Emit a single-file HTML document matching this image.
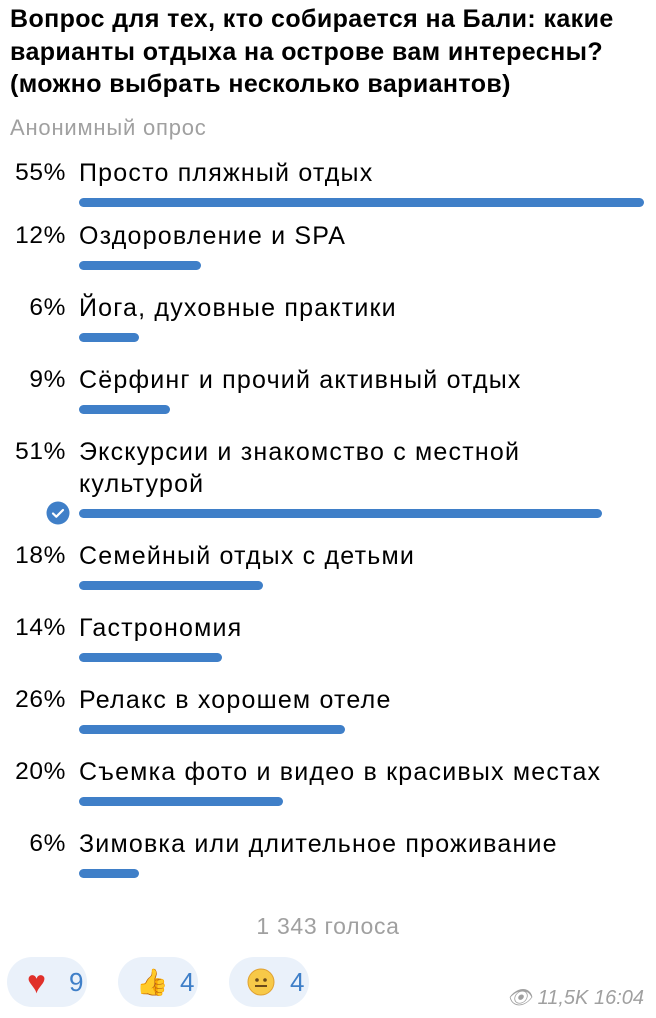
<!DOCTYPE html>
<html><head><meta charset="utf-8"><style>
body{margin:0;width:656px;height:1018px;background:#fff;position:relative;overflow:hidden;font-family:"Liberation Sans","DejaVu Sans",sans-serif;color:#000}
.a{position:absolute;white-space:nowrap}
.t{left:10px;font-size:25px;letter-spacing:0.4px;font-weight:bold;line-height:32px}
.p{width:66px;left:0;text-align:right;font-size:24.5px;letter-spacing:0.6px;line-height:30px}
.o{left:79px;font-size:25px;letter-spacing:1.2px;line-height:32px}
.b{position:absolute;left:79px;height:9px;border-radius:5px;background:#3f7fc8}
.r{position:absolute;top:957px;height:50px;width:80px;border-radius:25px;background:#eaf1fa;font-size:26px;color:#3f7fc8;line-height:50px}
</style></head><body>
<div class="a t" style="top:3px">Вопрос для тех, кто собирается на Бали: какие</div>
<div class="a t" style="top:36px">варианты отдыха на острове вам интересны?</div>
<div class="a t" style="top:68px">(можно выбрать несколько вариантов)</div>
<div class="a" style="left:10px;top:115px;font-size:22px;letter-spacing:0.8px;color:#a0a0a0">Анонимный опрос</div>

<div class="a p" style="top:158px">55%</div><div class="a o" style="top:157px">Просто пляжный отдых</div><div class="b" style="top:198px;width:565px"></div>
<div class="a p" style="top:221px">12%</div><div class="a o" style="top:220px">Оздоровление и SPA</div><div class="b" style="top:261px;width:122px"></div>
<div class="a p" style="top:293px">6%</div><div class="a o" style="top:292px">Йога, духовные практики</div><div class="b" style="top:333px;width:60px"></div>
<div class="a p" style="top:365px">9%</div><div class="a o" style="top:364px">Сёрфинг и прочий активный отдых</div><div class="b" style="top:405px;width:91px"></div>
<div class="a p" style="top:437px">51%</div><div class="a o" style="top:436px">Экскурсии и знакомство с местной</div><div class="a o" style="top:468px">культурой</div><div class="b" style="top:509px;width:523px"></div>
<svg class="a" style="left:46px;top:501px" width="24" height="24"><circle cx="12" cy="12" r="11.5" fill="#3f7fc8"/><path d="M7 12.5l3.3 3.2L17 9" stroke="#fff" stroke-width="2.2" fill="none" stroke-linecap="round" stroke-linejoin="round"/></svg>
<div class="a p" style="top:541px">18%</div><div class="a o" style="top:540px">Семейный отдых с детьми</div><div class="b" style="top:581px;width:184px"></div>
<div class="a p" style="top:613px">14%</div><div class="a o" style="top:612px">Гастрономия</div><div class="b" style="top:653px;width:143px"></div>
<div class="a p" style="top:685px">26%</div><div class="a o" style="top:684px">Релакс в хорошем отеле</div><div class="b" style="top:725px;width:266px"></div>
<div class="a p" style="top:757px">20%</div><div class="a o" style="top:756px">Съемка фото и видео в красивых местах</div><div class="b" style="top:797px;width:204px"></div>
<div class="a p" style="top:829px">6%</div><div class="a o" style="top:828px">Зимовка или длительное проживание</div><div class="b" style="top:869px;width:60px"></div>

<div class="a" style="left:0;width:656px;text-align:center;top:913px;font-size:23px;letter-spacing:0.7px;color:#a0a0a0">1 343 голоса</div>
<div class="r" style="left:7px"><span style="position:absolute;left:20px;color:#e0302a;font-size:32px">♥</span><span style="position:absolute;left:62px">9</span></div>
<div class="r" style="left:118px"><span style="position:absolute;left:18px;font-size:26px">👍</span><span style="position:absolute;left:62px">4</span></div>
<div class="r" style="left:229px"><svg style="position:absolute;left:18px;top:11px" width="28" height="28"><circle cx="14" cy="14" r="13" fill="#f7c948" stroke="#e0a030"/><line x1="8" y1="18" x2="20" y2="18" stroke="#6b4a1a" stroke-width="2"/><circle cx="10" cy="12" r="1.8" fill="#6b4a1a"/><circle cx="18" cy="12" r="1.8" fill="#6b4a1a"/></svg><span style="position:absolute;left:61px">4</span></div>
<div class="a" style="right:12px;top:985px;font-size:20px;color:#a0a0a0;font-style:italic">👁 11,5K 16:04</div>
</body></html>
